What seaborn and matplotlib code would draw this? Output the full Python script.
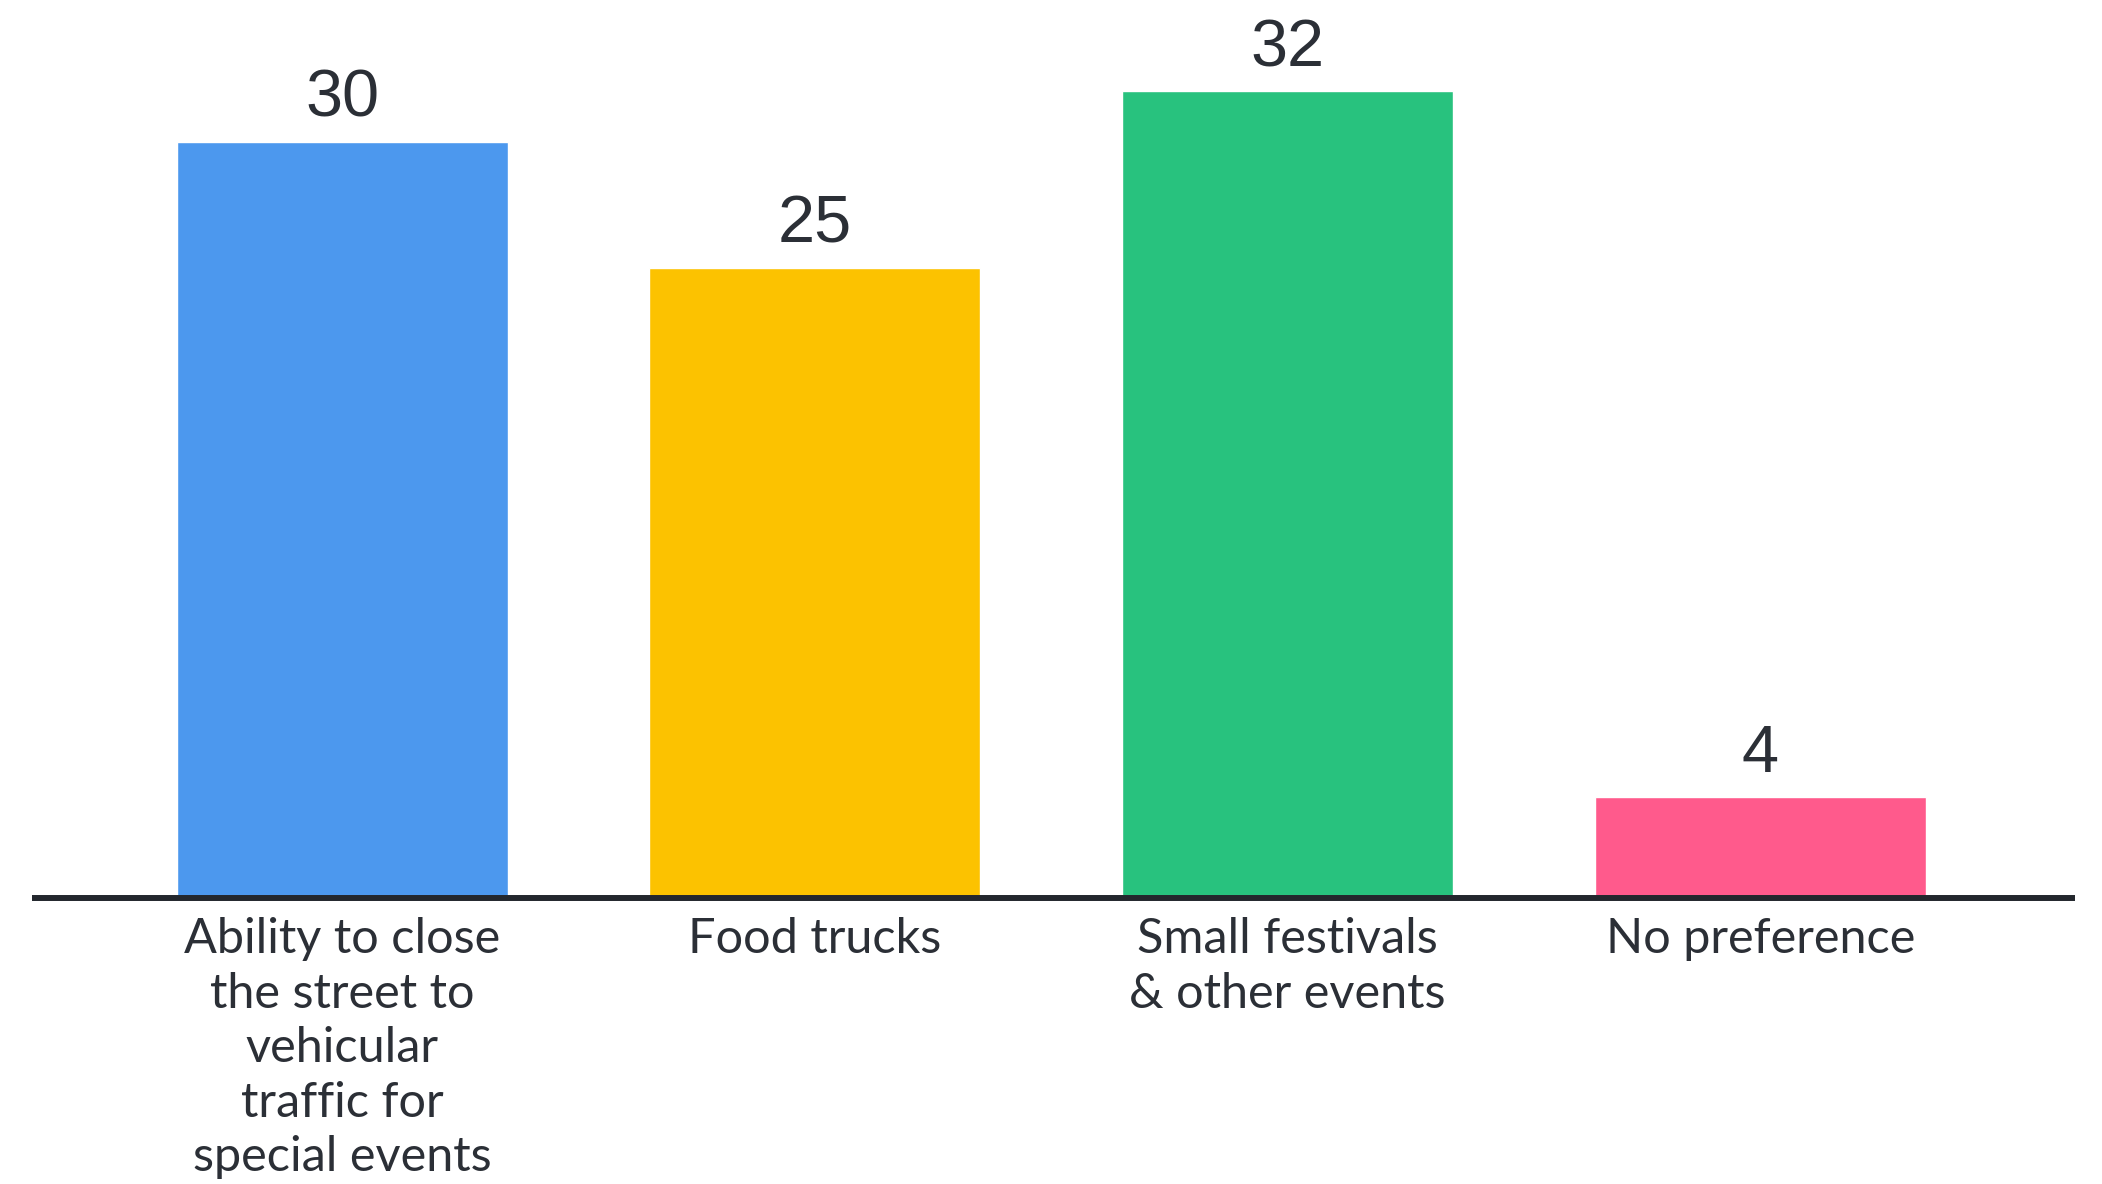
import matplotlib
matplotlib.use("Agg")
import matplotlib.pyplot as plt
import seaborn as sns
import pandas as pd

categories = [
    "Ability to close\nthe street to\nvehicular\ntraffic for\nspecial events",
    "Food trucks",
    "Small festivals\n& other events",
    "No preference",
]
values = [30, 25, 32, 4]
colors = ["#4C98EE", "#FCC200", "#28C27E", "#FF5A8C"]

sns.set_theme(style="white")
plt.rcParams["font.family"] = ["Lato", "DejaVu Sans"]

df = pd.DataFrame({"category": categories, "value": values})

fig = plt.figure(figsize=(21.02, 11.84), dpi=100)
ax = fig.add_axes([0.0152, 0.2416, 0.9720, 0.7584])

sns.barplot(data=df, x="category", y="value", hue="category",
            palette=colors, legend=False, width=0.7, saturation=1,
            ax=ax)

ax.set_xlim(-0.656, 3.666)
ax.set_ylim(0, 35.63)

for i, v in enumerate(values):
    ax.text(i, v + 0.45, str(v), ha="center", va="bottom",
            fontsize=48, color="#2B2F36", family=["Liberation Sans", "DejaVu Sans"])

for s in ["top", "right", "left"]:
    ax.spines[s].set_visible(False)
ax.spines["bottom"].set_linewidth(4.3)
ax.spines["bottom"].set_color("#23272D")
ax.spines["bottom"].set_capstyle("butt")

ax.set_yticks([])
ax.set_xlabel("")
ax.set_ylabel("")
ax.tick_params(axis="x", length=0, pad=14)
for lbl in ax.get_xticklabels():
    lbl.set_fontsize(35)
    lbl.set_color("#2B2F36")
    lbl.set_linespacing(1.29)
    lbl.set_verticalalignment("top")

fig.savefig("out.png", dpi=100, facecolor="white")
